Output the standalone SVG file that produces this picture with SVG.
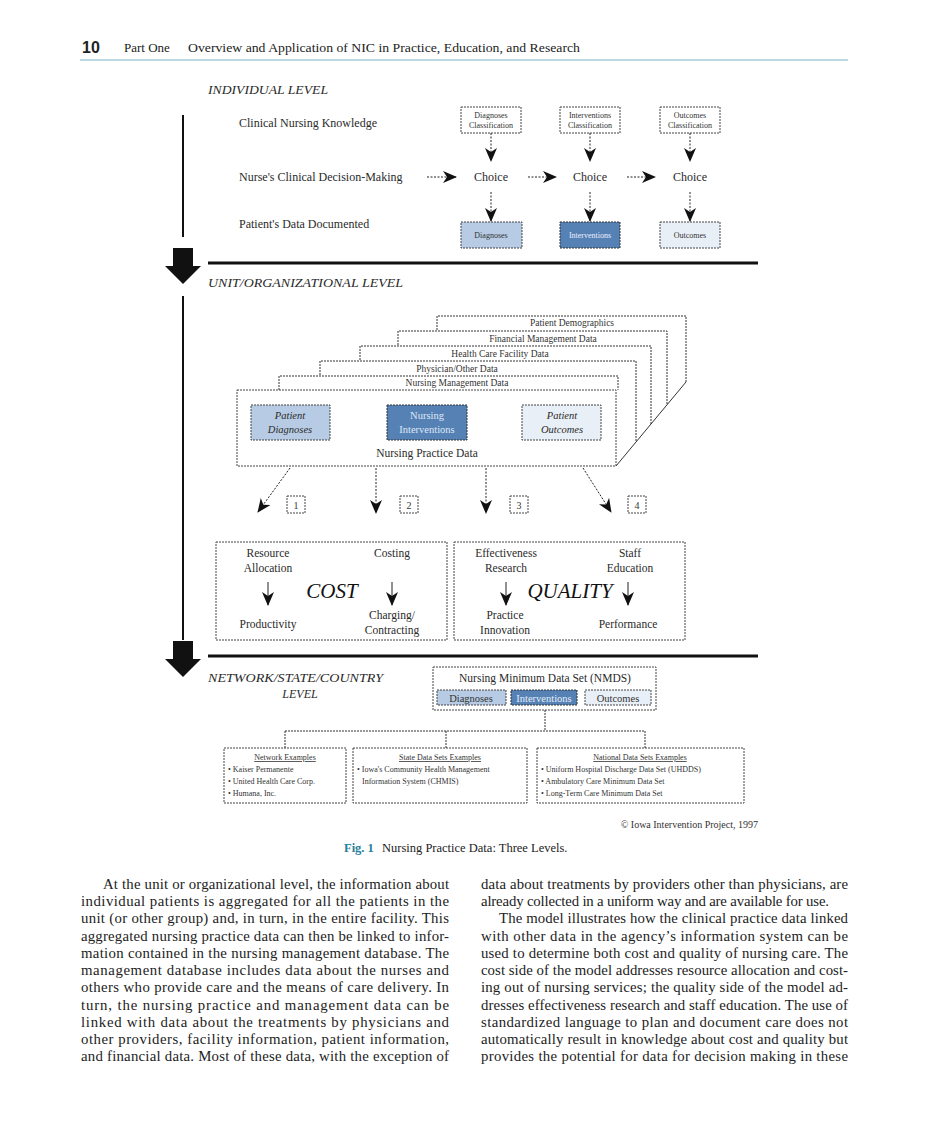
<svg xmlns="http://www.w3.org/2000/svg" width="929" height="1145" viewBox="0 0 929 1145">
<defs>
<marker id="ah" markerUnits="userSpaceOnUse" markerWidth="14" markerHeight="14" viewBox="0 0 14 14" refX="13" refY="7" orient="auto">
<path d="M0,1 L14,7 L0,13 L4,7 z" fill="#111"/>
</marker>
</defs>
<style>
.t{font-family:"Liberation Serif","Times New Roman",serif;fill:#222}
.lab{font-family:"Liberation Serif","Times New Roman",serif;fill:#2a2a2a}
.it{font-style:italic}
.sm{font-family:"Liberation Serif","Times New Roman",serif;fill:#333}
.box{fill:#fff;stroke:#444;stroke-width:1;stroke-dasharray:2 1}
.lb{fill:#b7cce4;stroke:#444;stroke-width:1;stroke-dasharray:2 1}
.mb{fill:#5581b4;stroke:#333;stroke-width:1;stroke-dasharray:2 1}
.vb{fill:#e9eff7;stroke:#444;stroke-width:1;stroke-dasharray:2 1}
.da{stroke:#222;stroke-width:1;stroke-dasharray:2 1.5;fill:none;marker-end:url(#ah)}
.sa{stroke:#222;stroke-width:1;fill:none;marker-end:url(#ah)}
.ln{stroke:#333;stroke-width:1;stroke-dasharray:2 1;fill:none}
.body{font-family:"Liberation Serif","Times New Roman",serif;font-size:14.8px;fill:#222}
</style>
<rect width="929" height="1145" fill="#fff"/>

<g id="header">
<text x="82" y="53" font-family="Liberation Sans,Arial,sans-serif" font-weight="bold" font-size="16" fill="#222">10</text>
<text x="124" y="52" class="t" font-size="13">Part One</text>
<text x="188" y="52" class="t" font-size="13" textLength="392" lengthAdjust="spacingAndGlyphs">Overview and Application of NIC in Practice, Education, and Research</text>
<line x1="80" y1="60" x2="848" y2="60" stroke="#7fb3c3" stroke-width="1.2"/>
</g>

<g id="level-markers">
<line x1="183" y1="115" x2="183" y2="237" stroke="#111" stroke-width="2"/>
<path d="M173,248 H193 V266 H201 L183,284 L165,266 H173 Z" fill="#111"/>
<line x1="208" y1="263" x2="758" y2="263" stroke="#111" stroke-width="3"/>
<line x1="183" y1="296" x2="183" y2="640" stroke="#111" stroke-width="2"/>
<path d="M173,641 H193 V659 H201 L183,677 L165,659 H173 Z" fill="#111"/>
<line x1="208" y1="656" x2="758" y2="656" stroke="#111" stroke-width="3"/>
</g>

<g id="individual-level">
<text x="208" y="94" class="lab it" font-size="12" textLength="120" lengthAdjust="spacingAndGlyphs">INDIVIDUAL LEVEL</text>
<text x="239" y="127" class="lab" font-size="12">Clinical Nursing Knowledge</text>
<text x="239" y="181" class="lab" font-size="12">Nurse's Clinical Decision-Making</text>
<text x="239" y="228" class="lab" font-size="12">Patient's Data Documented</text>
</g>

<g id="classification-boxes">
<rect x="461" y="107" width="60" height="26" class="box"/>
<text x="491" y="118" class="sm" text-anchor="middle" font-size="8">Diagnoses</text>
<text x="491" y="128" class="sm" text-anchor="middle" font-size="8">Classification</text>
<rect x="560" y="107" width="60" height="26" class="box"/>
<text x="590" y="118" class="sm" text-anchor="middle" font-size="8">Interventions</text>
<text x="590" y="128" class="sm" text-anchor="middle" font-size="8">Classification</text>
<rect x="660" y="107" width="60" height="26" class="box"/>
<text x="690" y="118" class="sm" text-anchor="middle" font-size="8">Outcomes</text>
<text x="690" y="128" class="sm" text-anchor="middle" font-size="8">Classification</text>
</g>

<g id="choices">
<text x="491" y="181" class="lab" text-anchor="middle" font-size="12">Choice</text>
<text x="590" y="181" class="lab" text-anchor="middle" font-size="12">Choice</text>
<text x="690" y="181" class="lab" text-anchor="middle" font-size="12">Choice</text>
</g>

<g id="documented-boxes">
<rect x="461" y="222" width="61" height="26" class="lb"/>
<text x="491" y="238" class="sm" text-anchor="middle" font-size="8">Diagnoses</text>
<rect x="560" y="222" width="60" height="26" class="mb"/>
<text x="590" y="238" class="sm" text-anchor="middle" font-size="8" style="fill:#eef">Interventions</text>
<rect x="660" y="222" width="60" height="26" class="vb"/>
<text x="690" y="238" class="sm" text-anchor="middle" font-size="8">Outcomes</text>
</g>

<g id="unit-level">
<text x="208" y="287" class="lab it" font-size="12" textLength="195" lengthAdjust="spacingAndGlyphs">UNIT/ORGANIZATIONAL LEVEL</text>
</g>

<g id="data-stack">
<path d="M437,330 V316 H686 V382" class="ln"/>
<text x="572" y="326" class="sm" text-anchor="middle" font-size="9.5">Patient Demographics</text>
<path d="M398,345 V331 H667 V405" class="ln"/>
<text x="543" y="342" class="sm" text-anchor="middle" font-size="9.5">Financial Management Data</text>
<path d="M360,360 V346 H651 V424" class="ln"/>
<text x="500" y="357" class="sm" text-anchor="middle" font-size="9.5">Health Care Facility Data</text>
<path d="M320,375 V361 H636 V442" class="ln"/>
<text x="457" y="372" class="sm" text-anchor="middle" font-size="9.5">Physician/Other Data</text>
<path d="M279,390 V376 H618 V390" class="ln"/>
<text x="457" y="386" class="sm" text-anchor="middle" font-size="9.5">Nursing Management Data</text>
<line x1="686" y1="382" x2="616" y2="466" stroke="#333" stroke-width="1"/>
<rect x="237" y="390" width="379" height="76" class="box"/>
<rect x="251" y="405" width="79" height="35" class="lb"/>
<text x="290" y="419" class="lab it" text-anchor="middle" font-size="10.5">Patient</text>
<text x="290" y="433" class="lab it" text-anchor="middle" font-size="10.5">Diagnoses</text>
<rect x="387" y="405" width="80" height="35" class="mb"/>
<text x="427" y="419" class="lab" text-anchor="middle" font-size="10.5" style="fill:#dfe8f5">Nursing</text>
<text x="427" y="433" class="lab" text-anchor="middle" font-size="10.5" style="fill:#dfe8f5">Interventions</text>
<rect x="522" y="405" width="79" height="35" class="vb"/>
<text x="562" y="419" class="lab it" text-anchor="middle" font-size="10.5">Patient</text>
<text x="562" y="433" class="lab it" text-anchor="middle" font-size="10.5">Outcomes</text>
<text x="427" y="457" class="lab" text-anchor="middle" font-size="11.5">Nursing Practice Data</text>
</g>

<g id="number-boxes">
<rect x="287" y="496" width="18" height="17" class="box"/>
<text x="296" y="509" class="sm" text-anchor="middle" font-size="10">1</text>
<rect x="400" y="496" width="18" height="17" class="box"/>
<text x="409" y="509" class="sm" text-anchor="middle" font-size="10">2</text>
<rect x="510" y="496" width="18" height="17" class="box"/>
<text x="519" y="509" class="sm" text-anchor="middle" font-size="10">3</text>
<rect x="628" y="496" width="18" height="17" class="box"/>
<text x="637" y="509" class="sm" text-anchor="middle" font-size="10">4</text>
</g>

<g id="cost">
<rect x="216" y="542" width="231" height="98" class="box"/>
<text x="268" y="557" class="lab" text-anchor="middle" font-size="11.5">Resource</text>
<text x="268" y="572" class="lab" text-anchor="middle" font-size="11.5">Allocation</text>
<text x="392" y="557" class="lab" text-anchor="middle" font-size="11.5">Costing</text>
<text x="332" y="598" class="lab it" text-anchor="middle" font-size="21" style="fill:#111">COST</text>
<text x="268" y="628" class="lab" text-anchor="middle" font-size="11.5">Productivity</text>
<text x="392" y="619" class="lab" text-anchor="middle" font-size="11.5">Charging/</text>
<text x="392" y="634" class="lab" text-anchor="middle" font-size="11.5">Contracting</text>
</g>

<g id="quality">
<rect x="454" y="542" width="231" height="98" class="box"/>
<text x="506" y="557" class="lab" text-anchor="middle" font-size="11.5">Effectiveness</text>
<text x="506" y="572" class="lab" text-anchor="middle" font-size="11.5">Research</text>
<text x="630" y="557" class="lab" text-anchor="middle" font-size="11.5">Staff</text>
<text x="630" y="572" class="lab" text-anchor="middle" font-size="11.5">Education</text>
<text x="570" y="598" class="lab it" text-anchor="middle" font-size="21" style="fill:#111">QUALITY</text>
<text x="505" y="619" class="lab" text-anchor="middle" font-size="11.5">Practice</text>
<text x="505" y="634" class="lab" text-anchor="middle" font-size="11.5">Innovation</text>
<text x="628" y="628" class="lab" text-anchor="middle" font-size="11.5">Performance</text>
</g>

<g id="network-level">
<text x="208" y="682" class="lab it" font-size="12" textLength="175" lengthAdjust="spacingAndGlyphs">NETWORK/STATE/COUNTRY</text>
<text x="300" y="698" class="lab it" font-size="12" text-anchor="middle">LEVEL</text>
</g>

<g id="nmds">
<rect x="433" y="667" width="223" height="43" class="box"/>
<text x="545" y="682" class="lab" text-anchor="middle" font-size="11.5">Nursing Minimum Data Set (NMDS)</text>
<rect x="437" y="690" width="69" height="15" class="lb"/>
<text x="471" y="701.5" class="sm" text-anchor="middle" font-size="10.5">Diagnoses</text>
<rect x="511" y="690" width="66" height="15" class="mb"/>
<text x="544" y="701.5" class="sm" text-anchor="middle" font-size="10.5" style="fill:#e6eef8">Interventions</text>
<rect x="585" y="690" width="66" height="15" class="vb"/>
<text x="618" y="701.5" class="sm" text-anchor="middle" font-size="10.5">Outcomes</text>
</g>

<g id="examples">
<rect x="224" y="748" width="122" height="55" class="box"/>
<text x="285" y="760" class="sm" text-anchor="middle" font-size="8" text-decoration="underline">Network Examples</text>
<text x="228" y="772" class="sm" font-size="8">• Kaiser Permanente</text>
<text x="228" y="784" class="sm" font-size="8">• United Health Care Corp.</text>
<text x="228" y="796" class="sm" font-size="8">• Humana, Inc.</text>
<rect x="353" y="748" width="174" height="55" class="box"/>
<text x="440" y="760" class="sm" text-anchor="middle" font-size="8" text-decoration="underline">State Data Sets Examples</text>
<text x="357" y="772" class="sm" font-size="8">• Iowa's Community Health Management</text>
<text x="362" y="784" class="sm" font-size="8">Information System (CHMIS)</text>
<rect x="537" y="748" width="207" height="55" class="box"/>
<text x="640" y="760" class="sm" text-anchor="middle" font-size="8" text-decoration="underline">National Data Sets Examples</text>
<text x="541" y="772" class="sm" font-size="8">• Uniform Hospital Discharge Data Set (UHDDS)</text>
<text x="541" y="784" class="sm" font-size="8">• Ambulatory Care Minimum Data Set</text>
<text x="541" y="796" class="sm" font-size="8">• Long-Term Care Minimum Data Set</text>
</g>

<g id="connectors">
<line x1="491" y1="133" x2="491" y2="161" class="da"/>
<line x1="590" y1="133" x2="590" y2="161" class="da"/>
<line x1="690" y1="133" x2="690" y2="161" class="da"/>
<line x1="427" y1="177" x2="456" y2="177" class="da"/>
<line x1="528" y1="177" x2="556" y2="177" class="da"/>
<line x1="627" y1="177" x2="655" y2="177" class="da"/>
<line x1="491" y1="192" x2="491" y2="221" class="da"/>
<line x1="590" y1="192" x2="590" y2="221" class="da"/>
<line x1="690" y1="192" x2="690" y2="221" class="da"/>
<line x1="290" y1="468" x2="258" y2="512" class="da"/>
<line x1="376" y1="468" x2="376" y2="513" class="da"/>
<line x1="486" y1="468" x2="486" y2="513" class="da"/>
<line x1="583" y1="468" x2="611" y2="512" class="da"/>
<line x1="268" y1="582" x2="268" y2="605" class="sa"/>
<line x1="392" y1="582" x2="392" y2="605" class="sa"/>
<line x1="506" y1="582" x2="506" y2="605" class="sa"/>
<line x1="628" y1="582" x2="628" y2="605" class="sa"/>
<path d="M545,710 V731 M285,731 H645 M285,731 V748 M446,731 V748 M645,731 V748" class="ln"/>
</g>

<g id="caption">
<text x="758" y="828" class="sm" text-anchor="end" font-size="10">© Iowa Intervention Project, 1997</text>
<text x="344" y="852" font-family="Liberation Serif,serif" font-weight="bold" font-size="12.5" fill="#2a7f9a">Fig. 1</text>
<text x="382" y="852" class="t" font-size="12.5">Nursing Practice Data: Three Levels.</text>
</g>

<g id="body-text" class="body">
<text x="103" y="889" textLength="346" lengthAdjust="spacing">At the unit or organizational level, the information about</text>
<text x="81" y="906" textLength="368" lengthAdjust="spacing">individual patients is aggregated for all the patients in the</text>
<text x="81" y="923" textLength="368" lengthAdjust="spacing">unit (or other group) and, in turn, in the entire facility. This</text>
<text x="81" y="941" textLength="368" lengthAdjust="spacing">aggregated nursing practice data can then be linked to infor-</text>
<text x="81" y="958" textLength="368" lengthAdjust="spacing">mation contained in the nursing management database. The</text>
<text x="81" y="975" textLength="368" lengthAdjust="spacing">management database includes data about the nurses and</text>
<text x="81" y="992" textLength="368" lengthAdjust="spacing">others who provide care and the means of care delivery. In</text>
<text x="81" y="1010" textLength="368" lengthAdjust="spacing">turn, the nursing practice and management data can be</text>
<text x="81" y="1027" textLength="368" lengthAdjust="spacing">linked with data about the treatments by physicians and</text>
<text x="81" y="1044" textLength="368" lengthAdjust="spacing">other providers, facility information, patient information,</text>
<text x="81" y="1061" textLength="368" lengthAdjust="spacing">and financial data. Most of these data, with the exception of</text>
<text x="481" y="889" textLength="367" lengthAdjust="spacing">data about treatments by providers other than physicians, are</text>
<text x="481" y="906" textLength="348" lengthAdjust="spacing">already collected in a uniform way and are available for use.</text>
<text x="499" y="923" textLength="349" lengthAdjust="spacing">The model illustrates how the clinical practice data linked</text>
<text x="481" y="941" textLength="367" lengthAdjust="spacing">with other data in the agency’s information system can be</text>
<text x="481" y="958" textLength="367" lengthAdjust="spacing">used to determine both cost and quality of nursing care. The</text>
<text x="481" y="975" textLength="367" lengthAdjust="spacing">cost side of the model addresses resource allocation and cost-</text>
<text x="481" y="992" textLength="367" lengthAdjust="spacing">ing out of nursing services; the quality side of the model ad-</text>
<text x="481" y="1010" textLength="367" lengthAdjust="spacing">dresses effectiveness research and staff education. The use of</text>
<text x="481" y="1027" textLength="367" lengthAdjust="spacing">standardized language to plan and document care does not</text>
<text x="481" y="1044" textLength="367" lengthAdjust="spacing">automatically result in knowledge about cost and quality but</text>
<text x="481" y="1061" textLength="367" lengthAdjust="spacing">provides the potential for data for decision making in these</text>
</g>
</svg>
